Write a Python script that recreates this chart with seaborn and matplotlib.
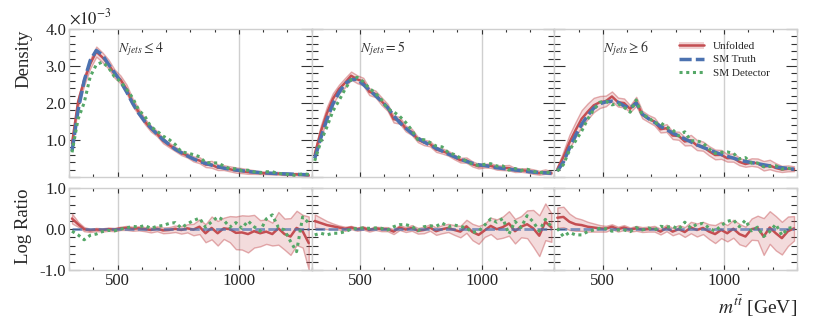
import numpy as np
import matplotlib
matplotlib.use('Agg')
import matplotlib.pyplot as plt
import seaborn as sns
from matplotlib.ticker import MultipleLocator, FixedLocator, FuncFormatter
from matplotlib.lines import Line2D
from matplotlib.patches import Patch

sns.set_theme(style='ticks')
plt.rcParams['font.family'] = ['Liberation Serif', 'DejaVu Serif']
plt.rcParams['mathtext.fontset'] = 'stix'
plt.rcParams['axes.unicode_minus'] = False

# bin centres of m_tt in GeV (25 GeV bins between 300 and 1300)
mtt = np.arange(312.5, 1300, 25)

jet_labels = [r'$N_{jets} \leq 4$', r'$N_{jets} = 5$', r'$N_{jets} \geq 6$']

# SM truth density, in units of 1e-3
truth_le4 = [0.70, 1.80, 2.60, 3.15, 3.42, 3.30, 3.05, 2.82, 2.58, 2.30,
             1.99, 1.72, 1.50, 1.33, 1.16, 1.01, 0.88, 0.75, 0.66, 0.57,
             0.49, 0.42, 0.37, 0.32, 0.28, 0.24, 0.21, 0.19, 0.17, 0.15,
             0.13, 0.12, 0.11, 0.10, 0.09, 0.085, 0.08, 0.07, 0.065, 0.06]
truth_eq5 = [0.50, 1.05, 1.55, 1.97, 2.28, 2.52, 2.63, 2.64, 2.50, 2.35,
             2.20, 2.05, 1.88, 1.66, 1.47, 1.32, 1.18, 1.05, 0.95, 0.86,
             0.78, 0.70, 0.62, 0.55, 0.48, 0.42, 0.37, 0.33, 0.31, 0.28,
             0.25, 0.23, 0.21, 0.19, 0.17, 0.15, 0.13, 0.12, 0.11, 0.10]
truth_ge6 = [0.16, 0.40, 0.78, 1.12, 1.42, 1.66, 1.86, 1.98, 2.03, 2.05,
             2.02, 1.92, 1.86, 2.00, 1.70, 1.58, 1.48, 1.37, 1.28, 1.19,
             1.11, 1.03, 0.95, 0.87, 0.80, 0.74, 0.67, 0.61, 0.56, 0.51,
             0.46, 0.42, 0.39, 0.36, 0.33, 0.30, 0.27, 0.25, 0.23, 0.21]

# log ratio unfolded / truth
unf_le4 = [0.26, 0.12, 0.00, -0.03, -0.01, -0.02, 0.00, -0.01, 0.02, 0.03,
           0.01, 0.02, 0.00, -0.02, 0.01, -0.03, -0.02, 0.01, -0.02, 0.02,
           -0.01, 0.06, -0.10, 0.03, -0.10, 0.02, 0.00, -0.09, -0.08, -0.12,
           -0.05, -0.10, -0.06, -0.12, 0.02, -0.12, -0.18, 0.03, -0.05, -0.34]
unf_eq5 = [0.20, 0.15, 0.10, 0.07, 0.04, 0.01, 0.04, 0.00, 0.03, -0.02,
           0.02, 0.00, 0.00, -0.06, 0.04, -0.01, 0.03, -0.04, -0.02, 0.04,
           -0.05, 0.00, 0.03, -0.02, -0.06, 0.07, -0.07, -0.14, -0.03, 0.08,
           0.00, 0.05, 0.14, -0.05, 0.06, 0.12, 0.02, -0.16, 0.18, 0.04]
unf_ge6 = [0.28, 0.30, 0.18, 0.12, 0.10, 0.06, 0.04, 0.02, 0.01, 0.06,
           0.00, 0.04, -0.01, 0.02, -0.01, 0.00, 0.01, -0.06, 0.03, -0.06,
           0.00, -0.07, 0.04, -0.02, 0.03, -0.06, -0.12, -0.02, -0.10, 0.01,
           -0.12, -0.18, 0.00, 0.03, -0.18, 0.04, -0.10, -0.22, -0.05, 0.02]

# half width of the unfolding uncertainty band (log)
band_le4 = [0.12, 0.06, 0.05, 0.04, 0.04, 0.04, 0.04, 0.04, 0.04, 0.05,
            0.05, 0.05, 0.05, 0.06, 0.06, 0.07, 0.07, 0.08, 0.09, 0.10,
            0.14, 0.18, 0.22, 0.28, 0.30, 0.26, 0.32, 0.40, 0.42, 0.45,
            0.40, 0.32, 0.30, 0.28, 0.40, 0.38, 0.45, 0.42, 0.40, 0.65]
band_eq5 = [0.16, 0.13, 0.10, 0.07, 0.05, 0.05, 0.04, 0.04, 0.04, 0.04,
            0.04, 0.05, 0.05, 0.06, 0.06, 0.06, 0.07, 0.07, 0.08, 0.08,
            0.09, 0.10, 0.10, 0.12, 0.14, 0.16, 0.20, 0.22, 0.16, 0.20,
            0.24, 0.26, 0.30, 0.30, 0.26, 0.34, 0.45, 0.50, 0.45, 0.35]
band_ge6 = [0.25, 0.25, 0.20, 0.16, 0.14, 0.12, 0.10, 0.08, 0.07, 0.06,
            0.06, 0.06, 0.05, 0.06, 0.06, 0.06, 0.07, 0.07, 0.08, 0.09,
            0.10, 0.12, 0.14, 0.16, 0.15, 0.18, 0.22, 0.20, 0.20, 0.22,
            0.25, 0.24, 0.26, 0.30, 0.45, 0.40, 0.42, 0.40, 0.36, 0.30]

# log ratio detector level / truth
det_le4 = [-0.05, -0.14, -0.26, -0.15, -0.12, -0.06, -0.03, -0.04, 0.00, 0.03,
           0.07, 0.05, 0.09, 0.02, 0.07, 0.09, 0.14, 0.16, 0.03, 0.13,
           0.21, 0.27, 0.05, 0.18, 0.30, 0.22, 0.05, 0.16, 0.02, 0.20,
           0.06, -0.05, 0.25, 0.35, 0.04, -0.02, -0.30, -0.55, 0.30, 0.15]
det_eq5 = [-0.14, -0.10, -0.14, -0.10, -0.10, -0.06, 0.00, 0.02, 0.03, 0.02,
           0.03, 0.02, -0.02, 0.06, 0.11, 0.11, 0.07, -0.04, 0.06, 0.08,
           0.07, 0.15, 0.06, 0.10, 0.07, 0.03, -0.08, -0.05, 0.10, 0.25,
           0.17, 0.26, -0.12, 0.19, 0.04, 0.33, 0.18, -0.05, 0.24, 0.06]
det_ge6 = [0.02, -0.18, -0.08, -0.14, -0.14, -0.06, -0.02, 0.02, 0.01, -0.05,
           -0.02, -0.02, -0.06, 0.04, -0.02, 0.03, -0.02, 0.07, 0.05, 0.07,
           0.00, 0.17, 0.03, 0.12, 0.14, 0.03, -0.05, 0.09, 0.19, 0.23,
           0.06, 0.22, -0.04, 0.05, -0.18, -0.06, 0.12, -0.15, 0.02, 0.05]

truths = [truth_le4, truth_eq5, truth_ge6]
unfs = [unf_le4, unf_eq5, unf_ge6]
bands = [band_le4, band_eq5, band_ge6]
dets = [det_le4, det_eq5, det_ge6]

pal = sns.color_palette('deep')
red, blue, green = pal[3], pal[0], pal[2]
dash_style = (0, (3.5, 1.2))
dot_style = (0, (1, 1.2))
spine_col = '#cfcfcf'
tick_col = '#333333'

fig = plt.figure(figsize=(8.3, 3.32), dpi=100)
lefts = [0.0831, 0.3755, 0.6678]
width = 0.2925


def style_axes(ax, top_panel, show_ylabels):
    ax.set_xlim(300, 1300)
    ax.xaxis.set_major_locator(FixedLocator([500, 1000]))
    ax.xaxis.set_minor_locator(MultipleLocator(100))
    ax.grid(True, axis='x', which='major', color=spine_col, lw=1.0, zorder=0)
    ax.set_axisbelow(True)
    for sp in ax.spines.values():
        sp.set_visible(True)
        sp.set_color(spine_col)
        sp.set_linewidth(1.0)
    ax.tick_params(which='both', direction='in', top=True, right=True,
                   color=tick_col, width=0.8, labelsize=12, labelcolor='#222222', pad=2)
    ax.tick_params(axis='y', which='major', length=8)
    ax.tick_params(axis='y', which='minor', length=4.3)
    ax.tick_params(axis='x', which='major', length=3.5)
    ax.tick_params(axis='x', which='minor', length=2.5)
    ax.tick_params(axis='x', labelbottom=not top_panel)
    ax.tick_params(axis='y', labelleft=show_ylabels)
    ax.set_xlabel('')
    ax.set_ylabel('')


for i in range(3):
    truth = np.array(truths[i]) * 1e-3
    unf_r = np.array(unfs[i])
    band = np.array(bands[i])
    det_r = np.array(dets[i])
    unf = truth * np.exp(unf_r)
    det = truth * np.exp(det_r)

    # density panel
    ax = fig.add_axes([lefts[i], 0.4669, width, 0.4458])
    ax.fill_between(mtt, unf * np.exp(-band), unf * np.exp(band),
                    facecolor=(*red, 0.2), edgecolor=(*red, 0.45), lw=1.0, zorder=1)
    sns.lineplot(x=mtt, y=unf, ax=ax, color=red, lw=1.8, zorder=2)
    sns.lineplot(x=mtt, y=truth, ax=ax, color=blue, lw=2.5, linestyle=dash_style, zorder=3)
    sns.lineplot(x=mtt, y=det, ax=ax, color=green, lw=2.2, linestyle=dot_style, zorder=4)
    ax.set_ylim(0, 4e-3)
    ax.yaxis.set_major_locator(MultipleLocator(1e-3))
    ax.yaxis.set_minor_locator(MultipleLocator(2e-4))
    ax.yaxis.set_major_formatter(FuncFormatter(lambda v, p: f'{v * 1e3:.1f}' if v > 1e-5 else ''))
    style_axes(ax, True, i == 0)
    ax.text(500, 3.38e-3, jet_labels[i], ha='left', va='baseline', fontsize=10, color='#333333')
    if i == 0:
        ax.text(0.0, 1.005, r'$\times10^{-3}$', transform=ax.transAxes,
                ha='left', va='bottom', fontsize=12, color='#222222')
    if i == 2:
        handles = [(Patch(facecolor=red, alpha=0.25, edgecolor='none'), Line2D([], [], color=red, lw=1.8)),
                   Line2D([], [], color=blue, lw=2.5, linestyle=dash_style),
                   Line2D([], [], color=green, lw=2.2, linestyle=dot_style)]
        ax.legend(handles, ['Unfolded', 'SM Truth', 'SM Detector'], loc='upper left',
                  bbox_to_anchor=(0.495, 0.945), borderaxespad=0, frameon=False,
                  fontsize=8, handlelength=2.25, handletextpad=0.8, labelspacing=0.3)

    # log ratio panel
    axr = fig.add_axes([lefts[i], 0.1867, width, 0.2461])
    axr.fill_between(mtt, unf_r - band, unf_r + band,
                     facecolor=(*red, 0.2), edgecolor=(*red, 0.45), lw=1.0, zorder=1)
    sns.lineplot(x=mtt, y=unf_r, ax=axr, color=red, lw=1.8, zorder=2)
    sns.lineplot(x=mtt, y=np.log(truth / truth), ax=axr, color=blue, lw=2.0,
                 linestyle=dash_style, alpha=0.7, zorder=3)
    sns.lineplot(x=mtt, y=det_r, ax=axr, color=green, lw=2.2, linestyle=dot_style, zorder=4)
    axr.set_ylim(-1, 1)
    axr.yaxis.set_major_locator(MultipleLocator(1.0))
    axr.yaxis.set_minor_locator(MultipleLocator(0.2))
    axr.yaxis.set_major_formatter(FuncFormatter(lambda v, p: f'{v:.1f}'))
    style_axes(axr, False, i == 0)

fig.text(23.5 / 830, 1 - 30 / 332, 'Density', rotation=90, ha='center', va='top', fontsize=13.5)
fig.text(23.5 / 830, 1 - 188 / 332, 'Log Ratio', rotation=90, ha='center', va='top', fontsize=13.5)
fig.text(0.9606, 0.077, r'$m^{t\bar{t}}$ [GeV]', ha='right', va='center', fontsize=14)

fig.savefig('out.png', dpi=100)
